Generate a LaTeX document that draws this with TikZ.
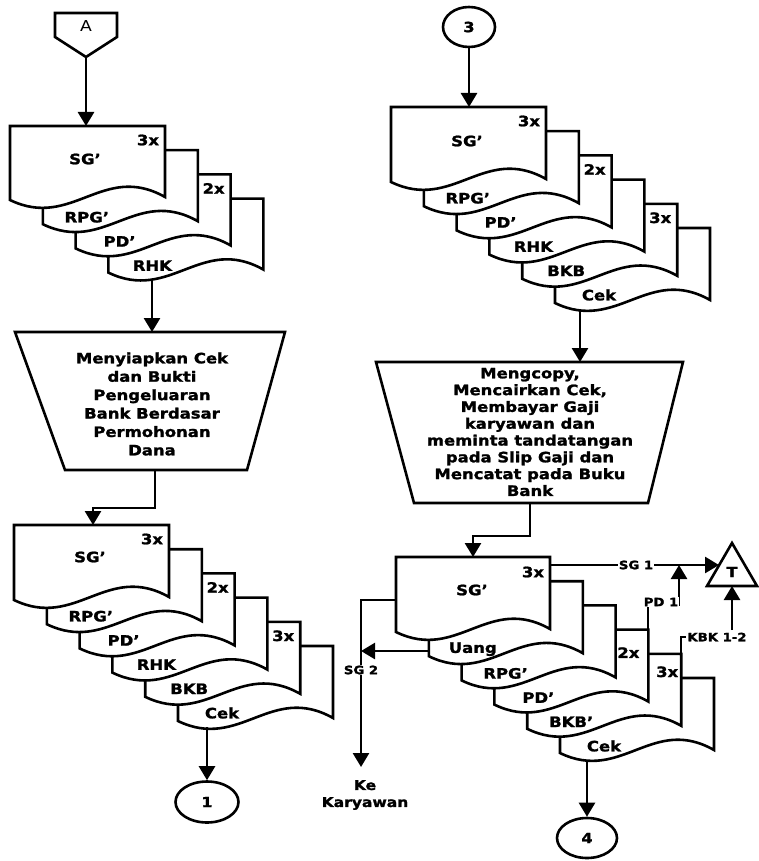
\documentclass[tikz,border=0pt]{standalone}
\usepackage{fontspec}
\setmainfont{DejaVu Sans}[FakeStretch=1.15, BoldFeatures={FakeBold=1.5}]
\usetikzlibrary{arrows.meta,shapes.geometric}

% one paper sheet of a document stack: x, y (top left), width, height
\newcommand\paper[4]{%
  \begin{scope}[shift={(#1,#2)}]
    \draw[sheet] (0,0) -- (#3,0) -- (#3,#4-3)
      .. controls (0.6*#3,#4-38) and (0.4*#3,#4+30) .. (0,#4) -- cycle;
  \end{scope}}

\def\sdx{32.8}
\def\sdy{24.2}

\begin{document}
\begin{tikzpicture}[x=1pt,y=-1pt,
  flow/.style={line width=2.6pt},
  sheet/.style={line width=2.6pt, fill=white, line join=miter},
  arr/.style={line width=2.6pt, -{Triangle[length=14pt,width=16pt]}},
  lab/.style={font=\fontsize{14.3}{17}\selectfont\bfseries, inner sep=0pt},
  tag/.style={font=\fontsize{11.5}{13}\selectfont\bfseries, inner sep=1pt, fill=white},
  proc/.style={align=center, inner sep=0pt},
  conn/.style={draw, ellipse, line width=2.6pt, inner sep=0pt,
    font=\fontsize{14}{16}\selectfont\bfseries}]

\useasboundingbox (0,0) rectangle (758,861);
\fill[white] (0,0) rectangle (758,861);

% ---------- off-page connector A ----------
\draw[sheet] (55,13) -- (117,13) -- (117,37) -- (86,57) -- (55,37) -- cycle;
\node[font=\fontsize{15}{17}\selectfont] (A) at (86,26) {A};
\coordinate (Atip) at (86,57);

% ---------- stack 1: SG', RPG', PD', RHK ----------
\foreach \i/\lbl in {3/RHK,2/PD’,1/RPG’}{
  \paper{10+\i*\sdx}{126+\i*\sdy}{155}{74}
  \node[lab] at (54+\i*\sdx,193+\i*\sdy) {\lbl};
  \ifnum\i=2 \node[lab] at (148+\i*\sdx,140+\i*\sdy) {2x};\fi
}
\paper{10}{126}{155}{74}
\node[lab] at (85,159) {SG’};
\node[lab] at (148,140) {3x};
\coordinate (s1in) at (86,126);
\coordinate (s1out) at (152,279);

% ---------- process 1 ----------
\draw[sheet] (15,332) -- (285,332) -- (247,470) -- (65,470) -- cycle;
\node[proc, font=\fontsize{14.3}{18.4}\selectfont\bfseries] (p1) at (152,404)
  {Menyiapkan Cek\\dan Bukti\\Pengeluaran\\Bank Berdasar\\Permohonan\\Dana};
\coordinate (p1in) at (152,332);
\coordinate (p1out) at (155,470);

% ---------- stack 2: SG', RPG', PD', RHK, BKB, Cek ----------
\foreach \i/\lbl in {5/Cek,4/BKB,3/RHK,2/PD’,1/RPG’}{
  \paper{14+\i*\sdx}{525+\i*\sdy}{155}{75}
  \node[lab] at (58+\i*\sdx,592+\i*\sdy) {\lbl};
  \ifnum\i=4 \node[lab] at (152+\i*\sdx,539+\i*\sdy) {3x};\fi
  \ifnum\i=2 \node[lab] at (152+\i*\sdx,539+\i*\sdy) {2x};\fi
}
\paper{14}{525}{155}{75}
\node[lab] at (90,557) {SG’};
\node[lab] at (152,539) {3x};
\coordinate (s2in) at (93,525);
\coordinate (s2out) at (207,727);

\node[conn, minimum width=63pt, minimum height=41pt] (c1) at (207,802) {1};

% ---------- connector 3 and stack 3 ----------
\node[conn, minimum width=52pt, minimum height=40pt] (c3) at (469,27) {3};

\foreach \i/\lbl in {5/Cek,4/BKB,3/RHK,2/PD’,1/RPG’}{
  \paper{391+\i*\sdx}{107+\i*\sdy}{155}{75}
  \node[lab] at (435+\i*\sdx,174+\i*\sdy) {\lbl};
  \ifnum\i=4 \node[lab] at (529+\i*\sdx,121+\i*\sdy) {3x};\fi
  \ifnum\i=2 \node[lab] at (529+\i*\sdx,121+\i*\sdy) {2x};\fi
}
\paper{391}{107}{155}{75}
\node[lab] at (467,141) {SG’};
\node[lab] at (529,121) {3x};
\coordinate (s3in) at (469,107);
\coordinate (s3out) at (580,309);

% ---------- process 2 ----------
\draw[sheet] (376,362) -- (683,362) -- (648,503) -- (414,503) -- cycle;
\node[proc, font=\fontsize{14.3}{16.8}\selectfont\bfseries] (p2) at (530,432)
  {Mengcopy,\\Mencairkan Cek,\\Membayar Gaji\\karyawan dan\\meminta tandatangan\\pada Slip Gaji dan\\Mencatat pada Buku\\Bank};
\coordinate (p2in) at (580,362);
\coordinate (p2out) at (530,503);

% ---------- stack 4: SG', Uang, RPG', PD', BKB', Cek ----------
\foreach \i/\lbl in {5/Cek,4/BKB’,3/PD’,2/RPG’,1/Uang}{
  \paper{396+\i*\sdx}{557+\i*\sdy}{154}{75}
  \node[lab] at (440+\i*\sdx,625+\i*\sdy) {\lbl};
  \ifnum\i=4 \node[lab] at (536+\i*\sdx,575+\i*\sdy) {3x};\fi
  \ifnum\i=3 \node[lab] at (530+\i*\sdx,580+\i*\sdy) {2x};\fi
}
\paper{396}{557}{154}{75}
\node[lab] at (472,590) {SG’};
\node[lab] at (533,572) {3x};
\coordinate (s4in) at (473,557);
\coordinate (s4out) at (587,760);

\node[conn, minimum width=60pt, minimum height=40pt] (c4) at (587,838) {4};

% ---------- file symbol T ----------
\draw[sheet] (732,543) -- (757,586) -- (707,586) -- cycle;
\node[font=\fontsize{14}{16}\selectfont\bfseries] (T) at (732,572) {T};
\coordinate (Tleft) at (719,565);
\coordinate (Tbase) at (732,586);

% ---------- flow lines ----------
\draw[arr] (Atip) -- (s1in);
\draw[arr] (s1out) -- (p1in);
\draw[arr] (p1out) -- (155,508) -- (93,508) -- (s2in);
\draw[arr] (s2out) -- (c1.north);
\draw[arr] (c3.south) -- (s3in);
\draw[arr] (s3out) -- (p2in);
\draw[arr] (p2out) -- (530,536) -- (473,536) -- (s4in);
\draw[arr] (s4out) -- (c4.north);

% copies leaving stack 4
\coordinate (sg1from) at (550,565);
\coordinate (pd1from) at (648,630);
\coordinate (kbkfrom) at (681,654);
\coordinate (sg2from) at (396,600);
\coordinate (uangfrom) at (429,651);
\coordinate (sg2line) at (361,651);
\coordinate (keto) at (361,767);

\draw[arr] (sg1from) -- (Tleft);
\draw[flow] (pd1from) -- (648,603);
\draw[arr] (679,606) -- (679,565);
\draw[flow] (kbkfrom) -- (681,637) -- (700,637);
\draw[arr] (732,630) -- (Tbase);
\draw[arr] (sg2from) -- (361,600) -- (keto);
\draw[arr] (uangfrom) -- (sg2line);

\node[tag] (sg1) at (636,565) {SG 1};
\node[tag] (pd1) at (661,602) {PD 1};
\node[tag] (kbk) at (717,637) {KBK 1-2};
\node[tag] (sg2) at (361,670) {SG 2};
\node[align=center, font=\fontsize{13.5}{17}\selectfont\bfseries] (ke) at (365,795)
  {Ke\\Karyawan};

\end{tikzpicture}
\end{document}
